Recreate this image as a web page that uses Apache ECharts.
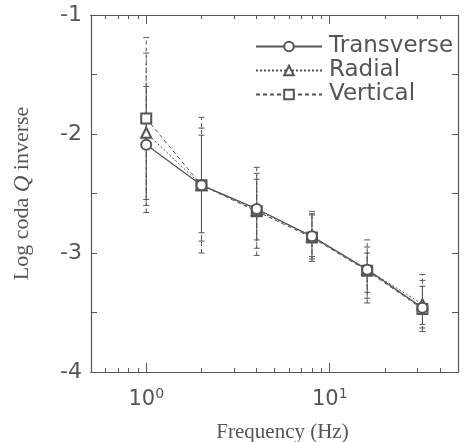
<!DOCTYPE html>
<html>
<head>
<meta charset="utf-8">
<script src="https://cdn.jsdelivr.net/npm/echarts@6/dist/echarts.min.js"></script>
<style>
  html, body { margin: 0; padding: 0; background: #fff; }
  #codaq { width: 467px; height: 442px; }
</style>
</head>
<body>
<div id="codaq"></div>
<script>
   var codaq = echarts.init(document.getElementById('codaq'));

   // frequencies (Hz)
   var freqs = [1, 2, 4, 8, 16, 32];
   // log coda Q^-1 per component
   var transverse = [-2.09, -2.43, -2.63, -2.86, -3.14, -3.46];
   var radial = [-1.99, -2.43, -2.64, -2.86, -3.14, -3.43];
   var vertical = [-1.87, -2.43, -2.65, -2.87, -3.15, -3.47];
   // error bar ends (low, high)
   var transverseLow = [-2.55, -2.83, -2.89, -3.03, -3.33, -3.60];
   var transverseHigh = [-1.60, -2.01, -2.38, -2.68, -3.00, -3.28];
   var radialLow = [-2.60, -2.90, -2.96, -3.05, -3.38, -3.63];
   var radialHigh = [-1.32, -1.95, -2.33, -2.67, -2.95, -3.23];
   var verticalLow = [-2.66, -3.00, -3.02, -3.07, -3.42, -3.66];
   var verticalHigh = [-1.19, -1.86, -2.28, -2.65, -2.89, -3.18];
   // axis ticks
   var majorTicks = [1, 10];
   var minorTicks = [0.6, 0.7, 0.8, 0.9, 2, 3, 4, 5, 6, 7, 8, 9, 20, 30, 40];

   var ink = '#555';

   function pts(vals) {
       return freqs.map(function (f, i) { return [f, vals[i]]; });
   }
   function bars(low, high) {
       return freqs.map(function (f, i) { return [f, low[i], high[i]]; });
   }
   function errSeries(name, data, dash) {
       return {
           name: name,
           type: 'custom',
           xAxisIndex: 0,
           yAxisIndex: 0,
           data: data,
           encode: { x: 0, y: [1, 2] },
           z: 1,
           silent: true,
           renderItem: function (params, api) {
               var x = api.value(0);
               var lo = api.coord([x, api.value(1)]);
               var hi = api.coord([x, api.value(2)]);
               var style = { stroke: ink, lineWidth: 1, lineDash: dash };
               return {
                   type: 'group',
                   children: [
                       { type: 'line', shape: { x1: lo[0], y1: lo[1], x2: hi[0], y2: hi[1] }, style: style },
                       { type: 'line', shape: { x1: hi[0] - 3, y1: hi[1], x2: hi[0] + 3, y2: hi[1] }, style: { stroke: ink, lineWidth: 1 } },
                       { type: 'line', shape: { x1: lo[0] - 3, y1: lo[1], x2: lo[0] + 3, y2: lo[1] }, style: { stroke: ink, lineWidth: 1 } }
                   ]
               };
           }
       };
   }
   function xAx(pos, ticks, len, labels) {
       return {
           type: 'log',
           logBase: 10,
           min: 0.5,
           max: 50,
           position: pos,
           splitLine: { show: false },
           axisLine: { show: true, onZero: false, lineStyle: { color: ink, width: 1.2 } },
           axisTick: { show: true, inside: true, length: len, customValues: ticks, lineStyle: { color: ink } },
           axisLabel: labels ? {
               show: true,
               customValues: majorTicks,
               margin: 15,
               formatter: function (v) {
                   return '{b|10}{s|' + Math.round(Math.log10(v)) + '}';
               },
               rich: {
                   b: { fontFamily: 'DejaVu Sans', fontSize: 21, color: ink, lineHeight: 26 },
                   s: { fontFamily: 'DejaVu Sans', fontSize: 14, color: ink, verticalAlign: 'top', lineHeight: 14, padding: [0, 0, 12, 0] }
               }
           } : { show: false },
           name: labels ? 'Frequency (Hz)' : '',
           nameLocation: 'middle',
           nameGap: 50,
           nameTextStyle: { fontFamily: 'Liberation Serif', fontSize: 21, color: ink, padding: [0, 0, 0, 16] }
       };
   }
   function yAx(pos, labels) {
       return {
           type: 'value',
           min: -4,
           max: -1,
           interval: 0.5,
           position: pos,
           splitLine: { show: false },
           axisLine: { show: true, onZero: false, lineStyle: { color: ink, width: 1.2 } },
           axisTick: { show: true, inside: true, length: 6, lineStyle: { color: ink } },
           axisLabel: labels ? {
               show: true,
               margin: 9,
               fontFamily: 'DejaVu Sans',
               fontSize: 22,
               color: ink,
               formatter: function (v) { return v % 1 === 0 ? String(v) : ''; }
           } : { show: false },
           name: labels ? '{r|Log coda }{q|Q}{r| inverse}' : '',
           nameLocation: 'middle',
           nameGap: 57,
           nameTextStyle: {
               color: ink,
               rich: {
                   r: { fontFamily: 'Liberation Serif', fontSize: 22, color: ink },
                   q: { fontFamily: 'Liberation Serif', fontSize: 23, fontStyle: 'italic', color: ink }
               }
           }
       };
   }

   var option_codaq = {
       animation: false,
       grid: { left: 91, right: 9, top: 15, bottom: 70, outerBoundsMode: 'none' },
       legend: {
           data: ['Transverse', 'Radial', 'Vertical'],
           orient: 'vertical',
           left: 250,
           top: 30,
           itemWidth: 66,
           itemHeight: 12,
           itemGap: 1,
           textStyle: { fontFamily: 'DejaVu Sans', fontSize: 23, color: ink, padding: [0, 0, 0, 2] }
       },
       xAxis: [
           xAx('bottom', majorTicks, 9, true),
           xAx('bottom', minorTicks, 4, false),
           xAx('top', majorTicks, 9, false),
           xAx('top', minorTicks, 4, false)
       ],
       yAxis: [yAx('left', true), yAx('right', false)],
       series: [
           errSeries('Vertical err', bars(verticalLow, verticalHigh), [4, 3]),
           errSeries('Radial err', bars(radialLow, radialHigh), [2, 2]),
           errSeries('Transverse err', bars(transverseLow, transverseHigh), null),
           {
               name: 'Vertical', type: 'line', data: pts(vertical), z: 3,
               symbol: 'emptyRect', symbolSize: 10,
               itemStyle: { color: ink, borderWidth: 1 },
               lineStyle: { color: ink, width: 1, type: [4, 3] }
           },
           {
               name: 'Radial', type: 'line', data: pts(radial), z: 3,
               symbol: 'emptyTriangle', symbolSize: 10,
               itemStyle: { color: ink, borderWidth: 1 },
               lineStyle: { color: ink, width: 1, type: [2, 2] }
           },
           {
               name: 'Transverse', type: 'line', data: pts(transverse), z: 4,
               symbol: 'emptyCircle', symbolSize: 10,
               itemStyle: { color: ink, borderWidth: 1 },
               lineStyle: { color: ink, width: 1.3, type: 'solid' }
           }
       ]
   };
   codaq.setOption(option_codaq);
   window.onresize = function () {
       codaq.resize();
   };
</script>
</body>
</html>
